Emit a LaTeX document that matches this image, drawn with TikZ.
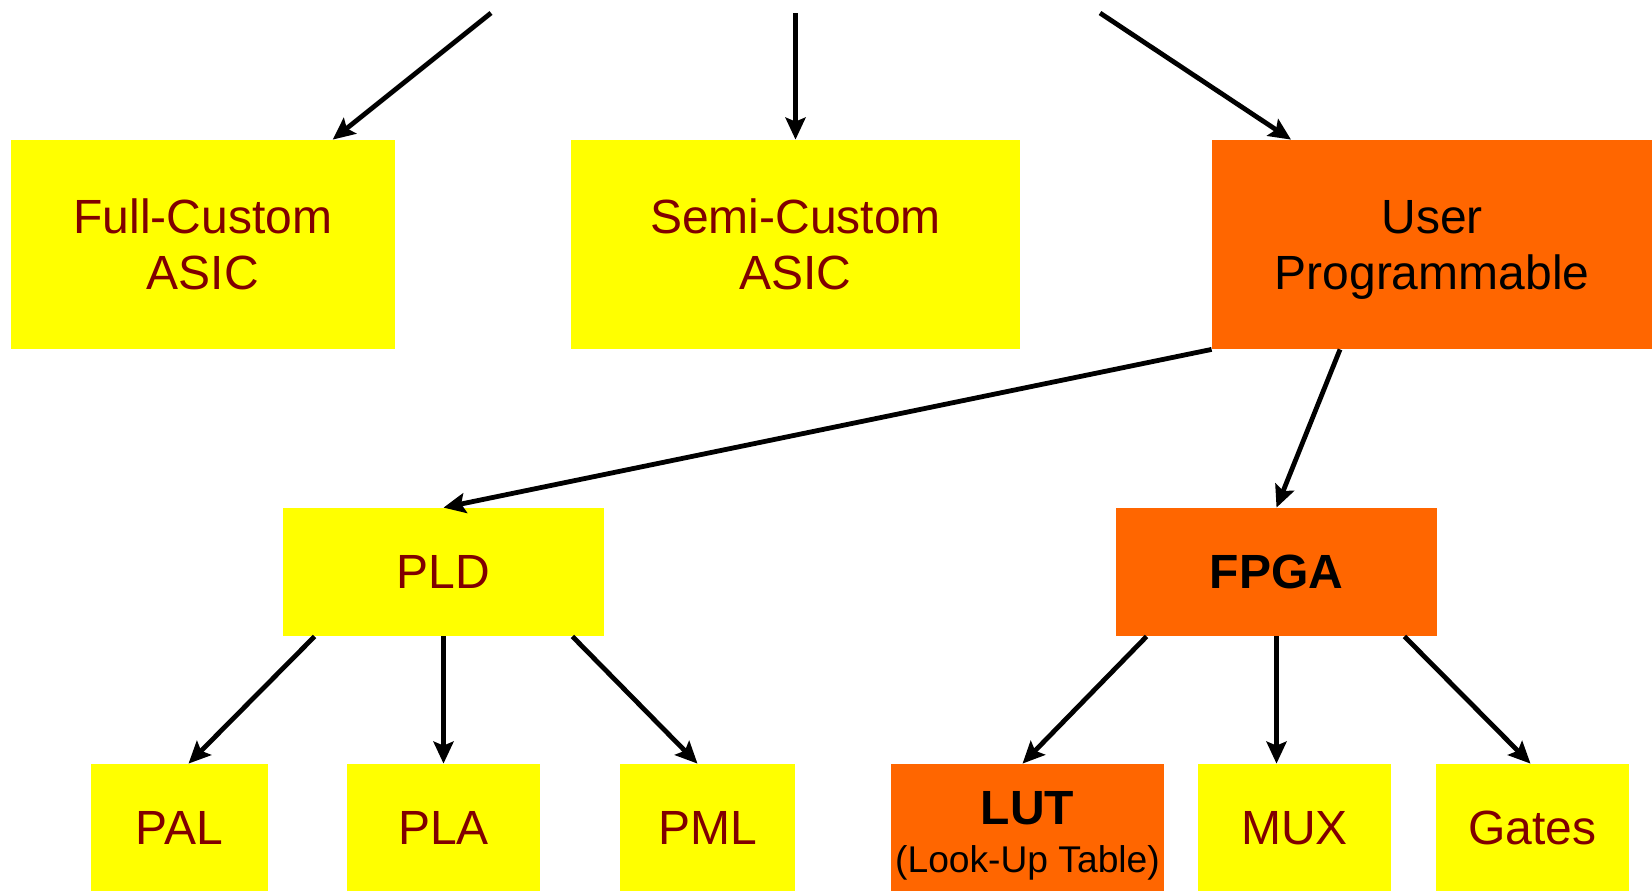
\documentclass[tikz,border=0pt]{standalone}
\usepackage{fontspec}
\setmainfont{Liberation Sans}
\usepackage{tikz}
\usetikzlibrary{arrows.meta,positioning,calc}
\usepackage{xcolor}
\definecolor{boxyellow}{RGB}{255,255,0}
\definecolor{boxorange}{RGB}{255,102,0}
\definecolor{textred}{RGB}{128,0,0}

\begin{document}
\begin{tikzpicture}[x=0.5pt, y=-0.5pt,
    plain/.style={rectangle, inner sep=0pt, fill=boxyellow, text=textred, align=center,
                  text depth=0pt, font=\fontsize{24}{28}\selectfont},
    prog/.style={plain, fill=boxorange, text=black},
    arr/.style={-{Stealth[length=11pt, width=10pt, inset=2pt]}, line width=2.4pt, black}]

    \useasboundingbox (0,0) rectangle (1652,891);

    % Top level
    \node[plain, minimum width=192.25pt, minimum height=104.5pt] (fc) at (202.75,244.5) {Full-Custom\\ASIC};
    \node[plain, minimum width=224.5pt, minimum height=104.5pt] (sc) at (795.5,244.5) {Semi-Custom\\ASIC};
    \node[prog, minimum width=220pt, minimum height=104.5pt] (up) at (1432,244.5) {User\\Programmable};
    % Middle
    \node[plain, minimum width=160.5pt, minimum height=64pt] (pld) at (443.5,572) {PLD};
    \node[prog, minimum width=160.5pt, minimum height=64pt, font=\fontsize{24}{28}\selectfont\bfseries] (fpga) at (1276.5,572) {FPGA};
    % Bottom
    \node[plain, minimum width=88.5pt, minimum height=63.5pt] (pal) at (179.5,827.5) {PAL};
    \node[plain, minimum width=96.5pt, minimum height=63.5pt] (pla) at (443.5,827.5) {PLA};
    \node[plain, minimum width=87.5pt, minimum height=63.5pt] (pml) at (707.5,827.5) {PML};
    \node[prog, minimum width=136.5pt, minimum height=63.5pt] (lut) at (1027.5,827.5)
        {\rule{0pt}{21pt}{\bfseries LUT}\\[-4pt]{\fontsize{18.6}{21}\selectfont (Look-Up Table)}};
    \node[plain, minimum width=96.5pt, minimum height=63.5pt] (mux) at (1294.5,827.5) {MUX};
    \node[plain, minimum width=96.5pt, minimum height=63.5pt] (gates) at (1532.5,827.5) {Gates};

    % Incoming arrows
    \coordinate (in1) at (491,13);
    \coordinate (in2) at (795.5,13);
    \coordinate (in3) at (1100,13);
    \draw[arr] (in1) -- ($(fc.north)+(130,0)$);
    \draw[arr] (in2) -- (sc.north);
    \draw[arr] (in3) -- ($(up.north)+(-141,0)$);

    \draw[arr] (up.south west) -- (pld.north);
    \draw[arr] ($(up.south)+(-92,0)$) -- (fpga.north);

    \draw[arr] ($(pld.south west)+(32,0)$) -- ($(pal.north)+(9,0)$);
    \draw[arr] (pld.south) -- (pla.north);
    \draw[arr] ($(pld.south east)+(-32,0)$) -- ($(pml.north)+(-10,0)$);

    \draw[arr] ($(fpga.south west)+(31,0)$) -- ($(lut.north)+(-5,0)$);
    \draw[arr] (fpga.south) -- ($(mux.north)+(-18,0)$);
    \draw[arr] ($(fpga.south east)+(-33,0)$) -- ($(gates.north)+(-2,0)$);
\end{tikzpicture}
\end{document}
